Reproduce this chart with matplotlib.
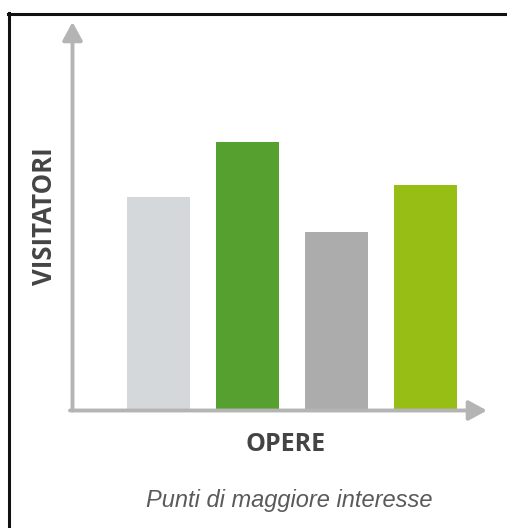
import matplotlib
matplotlib.use("Agg")
import matplotlib.pyplot as plt
from matplotlib.lines import Line2D

# Visitor share per point of interest (relative units)
opere = ["A", "B", "C", "D"]
visitatori = [55, 69, 46, 58]
colori = ["#d5d8db", "#55a02e", "#acacac", "#96be14"]

W, H = 507, 528
fig = plt.figure(figsize=(W / 100, H / 100), dpi=100)
fig.patch.set_facecolor("white")

# plot area: origin at the axis corner, up to the arrow tips
x0, y0 = 72.5, 410.5
x1, y1 = 487.0, 22.0
ax = fig.add_axes([x0 / W, 1 - y0 / H, (x1 - x0) / W, (y0 - y1) / H])
ax.set_xlim(-0.966, 3.691)
ax.set_ylim(0, 100)
ax.axis("off")

pos = list(range(len(opere)))
ax.bar(pos, visitatori, width=0.708, color=colori, zorder=2)

axis_col = "#b4b4b4"
arrow = dict(arrowstyle="-|>,head_length=0.55,head_width=0.3", color=axis_col,
             lw=2.8, mutation_scale=20, shrinkA=0, shrinkB=0)
ax.annotate("", xy=(0, 1), xytext=(0, 0), xycoords="axes fraction",
            arrowprops=arrow, zorder=3, annotation_clip=False)
ax.annotate("", xy=(1, 0), xytext=(-0.006, 0), xycoords="axes fraction",
            arrowprops=arrow, zorder=3, annotation_clip=False)

# axis titles and caption
fig.text(286 / W, 1 - 444.5 / H, "OPERE", ha="center", va="center",
         family="Open Sans", weight="bold", fontsize=18, color="#444444")
fig.text(45 / W, 1 - 216.5 / H, "VISITATORI", ha="center", va="center",
         rotation=90, family="Open Sans", weight="bold", fontsize=18.5,
         color="#444444")
fig.text(289 / W, 1 - 500 / H, "Punti di maggiore interesse", ha="center",
         va="center", family="Liberation Sans", style="italic", fontsize=17,
         color="#5a5a5a")

# frame lines along the top and left edges
fig.add_artist(Line2D([8 / W, 1], [1 - 13.5 / H, 1 - 13.5 / H],
                      transform=fig.transFigure, color="#111111", lw=2.2))
fig.add_artist(Line2D([9 / W, 9 / W], [1 - 12.5 / H, 0],
                      transform=fig.transFigure, color="#111111", lw=2.2))

fig.savefig("out.png", dpi=100, facecolor="white")
